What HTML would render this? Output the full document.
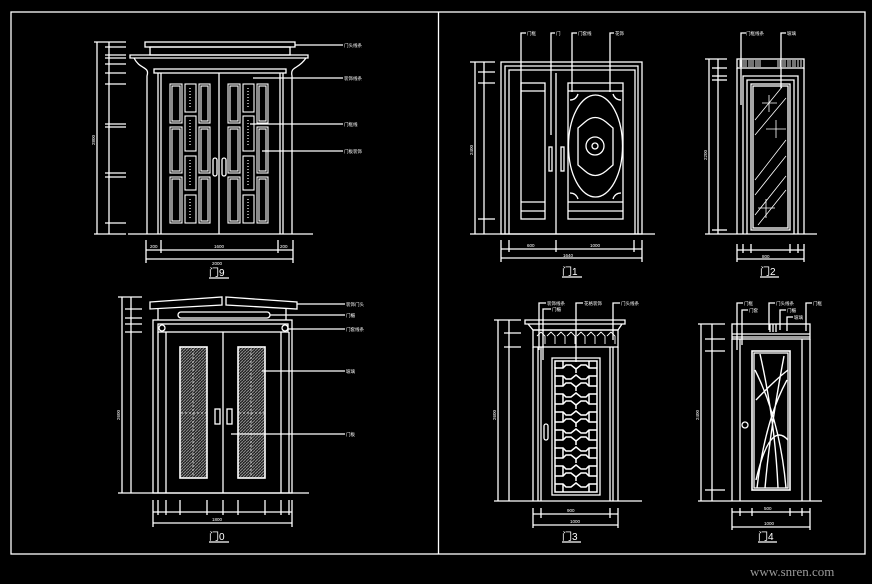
<!DOCTYPE html>
<html><head><meta charset="utf-8"><style>
html,body{margin:0;padding:0;background:#000;}
svg{display:block}
text{font-family:"Liberation Sans","Noto Sans CJK SC",sans-serif;fill:#fff}
</style></head><body>
<svg width="872" height="584" viewBox="0 0 872 584" xmlns="http://www.w3.org/2000/svg">
<defs>
<pattern id="hat" width="3" height="3" patternUnits="userSpaceOnUse"><rect width="3" height="3" fill="#222"/><path d="M0 3 L3 0" stroke="#8a8a8a" stroke-width="1"/></pattern>
</defs>
<rect width="872" height="584" fill="#000"/>
<g stroke="#fff" fill="none" stroke-width="1.3">
<rect x="11" y="12" width="854" height="542"/>
<line x1="438.5" y1="12" x2="438.5" y2="554"/>

<!-- ============ 门9 ============ -->
<rect x="145" y="42" width="150" height="5"/>
<rect x="150" y="47" width="140" height="8"/>
<path d="M130 55 H308 V58 H130 Z"/>
<path d="M134 58 C140 70 150 66 147 76 V234 M306 58 C298 70 290 66 292 76 V234"/>
<rect x="154" y="69" width="132" height="4"/>
<line x1="158" y1="73" x2="158" y2="234"/><line x1="161" y1="73" x2="161" y2="234"/>
<line x1="280" y1="73" x2="280" y2="234"/><line x1="283" y1="73" x2="283" y2="234"/>
<line x1="219" y1="73" x2="219" y2="234"/>
<line x1="128" y1="234" x2="313" y2="234"/>
<g stroke-width="1.1">
<rect x="170" y="84" width="12" height="39"/><rect x="172" y="86" width="8" height="35"/>
<rect x="170" y="127" width="12" height="46"/><rect x="172" y="129" width="8" height="42"/>
<rect x="170" y="177" width="12" height="46"/><rect x="172" y="179" width="8" height="42"/>
<rect x="199" y="84" width="11" height="39"/><rect x="201" y="86" width="7" height="35"/>
<rect x="199" y="127" width="11" height="46"/><rect x="201" y="129" width="7" height="42"/>
<rect x="199" y="177" width="11" height="46"/><rect x="201" y="179" width="7" height="42"/>
<rect x="228" y="84" width="12" height="39"/><rect x="230" y="86" width="8" height="35"/>
<rect x="228" y="127" width="12" height="46"/><rect x="230" y="129" width="8" height="42"/>
<rect x="228" y="177" width="12" height="46"/><rect x="230" y="179" width="8" height="42"/>
<rect x="257" y="84" width="11" height="39"/><rect x="259" y="86" width="7" height="35"/>
<rect x="257" y="127" width="11" height="46"/><rect x="259" y="129" width="7" height="42"/>
<rect x="257" y="177" width="11" height="46"/><rect x="259" y="179" width="7" height="42"/>
<rect x="185" y="84" width="11" height="28"/><rect x="185" y="116" width="11" height="35"/>
<rect x="185" y="156" width="11" height="34"/><rect x="185" y="195" width="11" height="28"/>
<rect x="243" y="84" width="11" height="28"/><rect x="243" y="116" width="11" height="35"/>
<rect x="243" y="156" width="11" height="34"/><rect x="243" y="195" width="11" height="28"/>
</g>
<g stroke="#999" stroke-width="2" stroke-dasharray="1 2">
<line x1="190" y1="88" x2="190" y2="108"/><line x1="190" y1="120" x2="190" y2="147"/><line x1="190" y1="160" x2="190" y2="186"/><line x1="190" y1="199" x2="190" y2="219"/>
<line x1="248" y1="88" x2="248" y2="108"/><line x1="248" y1="120" x2="248" y2="147"/><line x1="248" y1="160" x2="248" y2="186"/><line x1="248" y1="199" x2="248" y2="219"/>
</g>
<rect x="213" y="158" width="4" height="18" rx="2"/><rect x="222" y="158" width="4" height="18" rx="2"/>
<line x1="295" y1="45" x2="343" y2="45"/><line x1="253" y1="78" x2="343" y2="78"/>
<line x1="250" y1="124" x2="343" y2="124"/><line x1="262" y1="151" x2="343" y2="151"/>
<line x1="97" y1="42" x2="97" y2="234"/><line x1="109" y1="42" x2="109" y2="234"/>
<line x1="94" y1="42" x2="126" y2="42"/><line x1="94" y1="234" x2="126" y2="234"/>
<line x1="105" y1="47" x2="126" y2="47"/><line x1="105" y1="55" x2="126" y2="55"/><line x1="105" y1="58" x2="126" y2="58"/>
<line x1="105" y1="64" x2="126" y2="64"/><line x1="105" y1="73" x2="126" y2="73"/><line x1="105" y1="84" x2="126" y2="84"/>
<line x1="105" y1="124" x2="126" y2="124"/><line x1="105" y1="127" x2="126" y2="127"/>
<line x1="105" y1="173" x2="126" y2="173"/><line x1="105" y1="177" x2="126" y2="177"/><line x1="105" y1="223" x2="126" y2="223"/>
<line x1="146" y1="250" x2="293" y2="250"/><line x1="146" y1="259" x2="293" y2="259"/>
<line x1="146" y1="240" x2="146" y2="263"/><line x1="161" y1="240" x2="161" y2="253"/><line x1="278" y1="240" x2="278" y2="253"/><line x1="293" y1="240" x2="293" y2="263"/>
<line x1="209" y1="278" x2="229" y2="278"/>

<!-- ============ 门1 ============ -->
<rect x="501" y="62" width="141" height="172"/>
<path d="M505 234 V66 H638 V234"/>
<path d="M509 234 V70 H635 V234"/>
<line x1="556" y1="73" x2="556" y2="234"/>
<rect x="521" y="83" width="24" height="136"/><line x1="521" y1="91" x2="545" y2="91"/><line x1="521" y1="202" x2="545" y2="202"/><line x1="521" y1="211" x2="545" y2="211"/>
<rect x="568" y="83" width="55" height="136"/><line x1="568" y1="91" x2="623" y2="91"/><line x1="568" y1="202" x2="623" y2="202"/><line x1="568" y1="211" x2="623" y2="211"/>
<ellipse cx="595.5" cy="146" rx="27" ry="51"/>
<path d="M585 122 Q595 113 606 122 L613 128 V165 L606 171 Q595 180 585 171 L578 165 V128 Z"/>
<circle cx="595" cy="146" r="9"/><circle cx="595" cy="146" r="3"/>
<path d="M570 100 q6 0 8 -6 M621 100 q-6 0 -8 -6 M570 193 q6 0 8 6 M621 193 q-6 0 -8 6"/>
<rect x="549" y="147" width="3" height="24"/><rect x="561" y="147" width="3" height="24"/>
<path d="M521 120 V33 H526 M551 135 V33 H555 M572 92 V33 H577 M610 92 V33 H614"/>
<line x1="475" y1="62" x2="475" y2="234"/><line x1="484" y1="62" x2="484" y2="234"/>
<line x1="470" y1="62" x2="495" y2="62"/><line x1="478" y1="72" x2="495" y2="72"/><line x1="478" y1="83" x2="495" y2="83"/>
<line x1="478" y1="219" x2="495" y2="219"/><line x1="470" y1="234" x2="655" y2="234"/>
<line x1="501" y1="249" x2="642" y2="249"/><line x1="501" y1="258" x2="642" y2="258"/>
<line x1="501" y1="240" x2="501" y2="262"/><line x1="509" y1="240" x2="509" y2="252"/><line x1="556" y1="240" x2="556" y2="252"/><line x1="634" y1="240" x2="634" y2="252"/><line x1="642" y1="240" x2="642" y2="262"/>
<line x1="562" y1="277" x2="582" y2="277"/>

<!-- ============ 门2 ============ -->
<rect x="737" y="59" width="67" height="9"/>
<g stroke-width="0.9"><path d="M740 60v7M742 60v7M744 60v7M746 60v7M749 60v7M751 60v7M753 60v7M756 60v7M758 60v7M760 60v7M778 60v7M780 60v7M783 60v7M785 60v7M788 60v7M790 60v7M793 60v7M795 60v7M798 60v7M801 60v7"/></g>
<path d="M737 68 V234 M804 68 V234"/>
<path d="M743 234 V76 H798 V234"/>
<path d="M747 234 V80 H794 V234"/>
<rect x="751" y="84" width="39" height="146"/><rect x="753" y="86" width="35" height="142"/>
<g stroke-width="0.8"><path d="M755 120 L782 87 M755 135 L786 98 M755 180 L786 140 M755 195 L786 156 M755 215 L786 176 M758 225 L786 190"/>
<path d="M762 103 H777 M769 95 V112 M766 129 H786 M776 120 V138 M758 208 H775 M766 199 V218"/></g>
<path d="M741 105 V33 H746 M781 88 V33 H786"/>
<line x1="709" y1="59" x2="709" y2="234"/><line x1="718" y1="59" x2="718" y2="234"/>
<line x1="705" y1="59" x2="727" y2="59"/><line x1="712" y1="68" x2="727" y2="68"/><line x1="712" y1="76" x2="727" y2="76"/><line x1="712" y1="80" x2="727" y2="80"/><line x1="712" y1="230" x2="727" y2="230"/>
<line x1="705" y1="234" x2="817" y2="234"/>
<line x1="737" y1="250" x2="804" y2="250"/><line x1="737" y1="259" x2="804" y2="259"/>
<line x1="737" y1="244" x2="737" y2="262"/><line x1="743" y1="244" x2="743" y2="253"/><line x1="751" y1="244" x2="751" y2="253"/><line x1="790" y1="244" x2="790" y2="253"/><line x1="798" y1="244" x2="798" y2="253"/><line x1="804" y1="244" x2="804" y2="262"/>
<line x1="760" y1="277" x2="779" y2="277"/>

<!-- ============ 门0 ============ -->
<path d="M150 302 L222 297 V305 L150 309 Z M226 297 L297 302 V309 L226 305 Z"/>
<line x1="158" y1="309" x2="158" y2="320"/><line x1="286" y1="309" x2="286" y2="320"/>
<rect x="178" y="312" width="92" height="6" rx="3"/>
<rect x="153" y="320" width="139" height="173"/>
<rect x="158" y="324" width="130" height="8"/>
<path d="M158 332 V493 M166 332 V493 M281 332 V493 M289 332 V493"/>
<circle cx="162" cy="328" r="3"/><circle cx="285" cy="328" r="3"/>
<line x1="223" y1="332" x2="223" y2="493"/>
<rect x="180" y="347" width="27" height="131" stroke-width="1.6" fill="url(#hat)"/>
<rect x="238" y="347" width="27" height="131" stroke-width="1.6" fill="url(#hat)"/>
<g stroke="#fff" stroke-width="0.7" stroke-dasharray="2 2"><path d="M193 349 V476 M251 349 V476 M181 413 H206 M239 413 H264"/></g>
<rect x="215" y="409" width="5" height="15"/><rect x="227" y="409" width="5" height="15"/>
<line x1="297" y1="304" x2="345" y2="304"/><line x1="270" y1="315" x2="345" y2="315"/><line x1="288" y1="329" x2="345" y2="329"/><line x1="262" y1="371" x2="345" y2="371"/><line x1="231" y1="434" x2="345" y2="434"/>
<line x1="122" y1="297" x2="122" y2="493"/><line x1="131" y1="297" x2="131" y2="493"/>
<line x1="118" y1="297" x2="142" y2="297"/><line x1="125" y1="309" x2="142" y2="309"/><line x1="125" y1="318" x2="142" y2="318"/><line x1="125" y1="324" x2="142" y2="324"/><line x1="125" y1="332" x2="142" y2="332"/>
<line x1="118" y1="493" x2="309" y2="493"/>
<line x1="153" y1="512" x2="292" y2="512"/><line x1="153" y1="523" x2="292" y2="523"/>
<path d="M153 500v27M158 500v15M166 500v15M180 500v15M207 500v15M223 500v15M238 500v15M265 500v15M281 500v15M289 500v15M292 500v27"/>
<line x1="209" y1="542" x2="229" y2="542"/>

<!-- ============ 门3 ============ -->
<path d="M525 320 H625 V324 H525 Z M528 324 L533 330 H618 L622 324"/>
<rect x="533" y="330" width="85" height="17"/>
<g stroke-width="0.9"><path d="M537 336 l4 -4 l4 4 v8 M547 336 l4 -4 l4 4 v8 M557 336 l4 -4 l4 4 v8 M567 336 l4 -4 l4 4 v8 M577 336 l4 -4 l4 4 v8 M587 336 l4 -4 l4 4 v8 M597 336 l4 -4 l4 4 v8 M607 336 l4 -4 l4 4 v8"/></g>
<path d="M533 347 V501 M538 347 V501 M541 347 V501 M613 347 V501 M610 347 V501 M618 347 V501"/>
<rect x="552" y="358" width="48" height="137"/>
<g stroke-width="1.5">
<path d="M555 361 H597 V492 H555 Z"/>
<path d="M555 368 h8 l3 -3 h5 l5 4 l5 -4 h5 l3 3 h8 M555 376 h8 l3 3 h5 l5 -4 l5 4 h5 l3 -3 h8"/>
<path d="M555 386 h8 l3 -3 h5 l5 4 l5 -4 h5 l3 3 h8 M555 394 h8 l3 3 h5 l5 -4 l5 4 h5 l3 -3 h8"/>
<path d="M555 404 h8 l3 -3 h5 l5 4 l5 -4 h5 l3 3 h8 M555 412 h8 l3 3 h5 l5 -4 l5 4 h5 l3 -3 h8"/>
<path d="M555 422 h8 l3 -3 h5 l5 4 l5 -4 h5 l3 3 h8 M555 430 h8 l3 3 h5 l5 -4 l5 4 h5 l3 -3 h8"/>
<path d="M555 440 h8 l3 -3 h5 l5 4 l5 -4 h5 l3 3 h8 M555 448 h8 l3 3 h5 l5 -4 l5 4 h5 l3 -3 h8"/>
<path d="M555 458 h8 l3 -3 h5 l5 4 l5 -4 h5 l3 3 h8 M555 466 h8 l3 3 h5 l5 -4 l5 4 h5 l3 -3 h8"/>
<path d="M555 476 h8 l3 -3 h5 l5 4 l5 -4 h5 l3 3 h8 M555 484 h8 l3 3 h5 l5 -4 l5 4 h5 l3 -3 h8"/>
<path d="M563 361 v7 M589 361 v7 M563 376 v10 M589 376 v10 M563 394 v10 M589 394 v10 M563 412 v10 M589 412 v10 M563 430 v10 M589 430 v10 M563 448 v10 M589 448 v10 M563 466 v10 M589 466 v10 M563 484 v8 M589 484 v8"/>
<path d="M576 369 v4 M576 387 v4 M576 405 v4 M576 423 v4 M576 441 v4 M576 459 v4 M576 477 v4"/>
</g>
<rect x="544" y="424" width="4" height="16" rx="2"/>
<path d="M539 350 V303 H546 M543 360 V309 H551 M576 362 V303 H583 M613 340 V303 H620"/>
<line x1="498" y1="320" x2="498" y2="501"/><line x1="509" y1="320" x2="509" y2="501"/>
<line x1="494" y1="320" x2="521" y2="320"/><line x1="504" y1="333" x2="521" y2="333"/><line x1="504" y1="347" x2="521" y2="347"/>
<line x1="494" y1="501" x2="642" y2="501"/>
<line x1="533" y1="514" x2="618" y2="514"/><line x1="533" y1="525" x2="618" y2="525"/>
<path d="M533 508v20M541 508v10M610 508v10M618 508v20"/>
<line x1="562" y1="542" x2="581" y2="542"/>

<!-- ============ 门4 ============ -->
<rect x="732" y="324" width="78" height="15"/>
<line x1="732" y1="334" x2="810" y2="334"/><line x1="732" y1="337" x2="810" y2="337"/>
<path d="M770 324 V332 M773 324 V332 M776 324 V332"/>
<path d="M732 339 V501 M810 339 V501 M740 339 V501 M802 339 V501"/>
<rect x="752" y="351" width="38" height="139" stroke-width="1.6"/>
<rect x="754" y="353" width="34" height="135"/>
<g stroke-width="1.4"><path d="M755 370 Q780 420 786 488 M787 380 Q765 420 757 488 M760 354 Q775 420 778 488 M784 356 Q770 430 765 488 M756 400 Q775 380 788 370 M756 480 Q770 420 788 440"/></g>
<circle cx="745" cy="425" r="3"/>
<path d="M737 350 V303 H743 M742 345 V310 H748 M769 330 V303 H775 M780 330 V310 H786 M787 331 V317 H793 M806 331 V303 H812"/>
<line x1="701" y1="324" x2="701" y2="501"/><line x1="712" y1="324" x2="712" y2="501"/>
<line x1="698" y1="324" x2="725" y2="324"/><line x1="705" y1="339" x2="725" y2="339"/><line x1="705" y1="351" x2="725" y2="351"/><line x1="705" y1="490" x2="725" y2="490"/>
<line x1="698" y1="501" x2="822" y2="501"/>
<line x1="732" y1="512" x2="810" y2="512"/><line x1="732" y1="527" x2="810" y2="527"/>
<path d="M732 508v22M740 508v8M752 508v8M790 508v8M802 508v8M810 508v22"/>
<line x1="758" y1="542" x2="777" y2="542"/>
</g>

<g font-size="4.5">
<text x="344" y="47">门头线条</text><text x="344" y="80">装饰线条</text><text x="344" y="126">门框线</text><text x="344" y="153">门板装饰</text>
<text x="346" y="306">装饰门头</text><text x="346" y="317">门楣</text><text x="346" y="331">门套线条</text><text x="346" y="373">玻璃</text><text x="346" y="436">门板</text>
<text x="527" y="35">门框</text><text x="556" y="35">门</text><text x="578" y="35">门套线</text><text x="615" y="35">花饰</text>
<text x="746" y="35">门框线条</text><text x="787" y="35">玻璃</text>
<text x="547" y="305">装饰线条</text><text x="552" y="311">门楣</text><text x="584" y="305">花格装饰</text><text x="621" y="305">门头线条</text>
<text x="744" y="305">门框</text><text x="749" y="312">门套</text><text x="776" y="305">门头线条</text><text x="787" y="312">门楣</text><text x="794" y="319">玻璃</text><text x="813" y="305">门框</text>
<text x="150" y="248">200</text><text x="214" y="248">1600</text><text x="280" y="248">200</text><text x="212" y="265">2000</text>
<text x="527" y="247">600</text><text x="590" y="247">1000</text><text x="563" y="257">1640</text>
<text x="762" y="258">800</text><text x="212" y="521">1800</text><text x="570" y="523">1000</text><text x="764" y="525">1000</text>
<text x="567" y="512">900</text><text x="764" y="510">500</text>
<text transform="translate(95 145) rotate(-90)">2800</text><text transform="translate(473 155) rotate(-90)">2400</text>
<text transform="translate(707 160) rotate(-90)">2200</text><text transform="translate(120 420) rotate(-90)">2600</text>
<text transform="translate(496 420) rotate(-90)">2600</text><text transform="translate(699 420) rotate(-90)">2400</text>
</g>
<g font-size="10">
<text x="209" y="276">门9</text><text x="562" y="275">门1</text><text x="760" y="275">门2</text>
<text x="209" y="540">门0</text><text x="562" y="540">门3</text><text x="758" y="540">门4</text>
</g>
<text x="750" y="576" font-size="13" style="fill:#9a9a9a;font-family:'Liberation Serif',serif">www.snren.com</text>
</svg>
</body></html>
